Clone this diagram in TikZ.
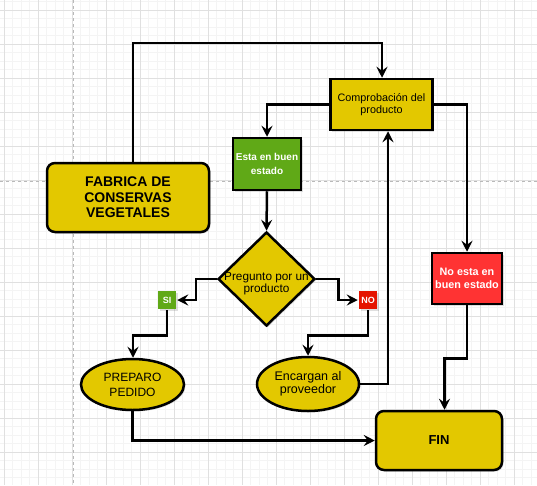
\documentclass[tikz,border=0pt]{standalone}
\usepackage{fontspec}
\setmainfont{Liberation Sans}
\usetikzlibrary{shapes.geometric,arrows.meta,shadows}

\definecolor{amarillo}{HTML}{E3C800}
\definecolor{verde}{HTML}{60A917}
\definecolor{rojo}{HTML}{FF3333}
\definecolor{rojono}{HTML}{E51400}

\tikzset{
  sombra/.style={drop shadow={shadow xshift=1.5pt, shadow yshift=-1.5pt, opacity=0.25, fill=gray}},
  caja/.style={draw=black, line width=2.5pt, sombra, align=center, inner sep=0pt},
  flecha/.style={line width=2.5pt, -{Stealth[length=11pt,width=11pt,inset=4pt]}},
  rejilla/.style={gray!9, line width=0.5pt},
  rejillamayor/.style={gray!24, line width=0.6pt}
}

\begin{document}
\begin{tikzpicture}[x=1pt, y=-1pt]
  \useasboundingbox (0,0) rectangle (537,485);
  \fill[white] (0,0) rectangle (537,485);
  % grid
  \foreach \i in {0,...,63}
    \draw[rejilla] (4+8.5*\i,0) -- (4+8.5*\i,485);
  \foreach \i in {0,...,57}
    \draw[rejilla] (0,1.5+8.5*\i) -- (537,1.5+8.5*\i);
  \foreach \i in {0,...,15}
    \draw[rejillamayor] (4+34*\i,0) -- (4+34*\i,485);
  \foreach \i in {0,...,14}
    \draw[rejillamayor] (0,10+34*\i) -- (537,10+34*\i);
  \draw[gray!55, dashed, line width=0.6pt] (73,0) -- (73,485);
  \draw[gray!55, dashed, line width=0.6pt] (0,181) -- (537,181);

  % nodes
  \node[caja, fill=amarillo, rounded corners=8pt, minimum width=162pt, minimum height=69pt,
        font=\fontsize{14}{15.5}\selectfont\bfseries] (fabrica) at (128,197.5) {FABRICA DE\\CONSERVAS\\VEGETALES};
  \node[caja, fill=amarillo, minimum width=102pt, minimum height=51pt,
        font=\fontsize{10.8}{11.5}\selectfont] (comprob) at (381.5,104.5) {Comprobación del\\producto};
  \node[caja, fill=verde, text=white, minimum width=68pt, minimum height=52pt,
        font=\fontsize{10}{13.3}\selectfont\bfseries] (buen) at (267,164) {Esta en buen\\estado};
  \node[caja, diamond, fill=amarillo, minimum width=97pt, minimum height=94pt] (pregunto) at (266.5,279) {};
  \node[font=\fontsize{11.8}{12}\selectfont, align=center] (preguntotxt) at ([yshift=-5pt]pregunto) {Pregunto por un\\producto};
  \node[caja, fill=verde, draw=none, text=white, minimum size=18pt,
        font=\fontsize{9}{10}\selectfont\bfseries] (si) at (167,300) {SI};
  \node[caja, fill=rojono, draw=none, text=white, minimum size=18pt,
        font=\fontsize{9}{10}\selectfont\bfseries] (no) at (368,300) {NO};
  \node[caja, ellipse, fill=amarillo, minimum width=103pt, minimum height=51pt,
        font=\fontsize{12}{15}\selectfont] (preparo) at (132.5,384.5) {PREPARO\\PEDIDO};
  \node[caja, ellipse, fill=amarillo, minimum width=102pt, minimum height=54pt,
        font=\fontsize{12.5}{12.5}\selectfont] (encargan) at (308,384) {Encargan al\\proveedor};
  \node[caja, fill=rojo, text=white, minimum width=70pt, minimum height=51pt,
        font=\fontsize{10.8}{12.5}\selectfont\bfseries] (noesta) at (467,278.5) {No esta en\\buen estado};
  \node[caja, fill=amarillo, rounded corners=8pt, minimum width=126pt, minimum height=59pt,
        font=\fontsize{13}{15}\selectfont\bfseries] (fin) at (439,440.5) {FIN};

  % connectors
  \draw[flecha] ([xshift=5pt]fabrica.north) -- ++(0,-119) -| ([xshift=0.5pt]comprob.north);
  \draw[flecha] (comprob.west) -| (buen.north);
  \draw[flecha] (comprob.east) -| (noesta.north);
  \draw[flecha] (buen.south) -- (pregunto.north);
  \draw[flecha] (pregunto.west) -- ++(-21,0) |- (si.east);
  \draw[flecha] (pregunto.east) -- ++(22,0) |- (no.west);
  \draw[flecha] (si.south) -- ++(0,25) -| ([xshift=0.5pt]preparo.north);
  \draw[flecha] (no.south) -- ++(0,25) -| (encargan.north);
  \draw[flecha] (encargan.east) -| ([xshift=6.5pt]comprob.south);
  \draw[flecha] (noesta.south) -- ++(0,53) -| ([xshift=5.5pt]fin.north);
  \draw[flecha] (preparo.south) |- (fin.west);
\end{tikzpicture}
\end{document}
